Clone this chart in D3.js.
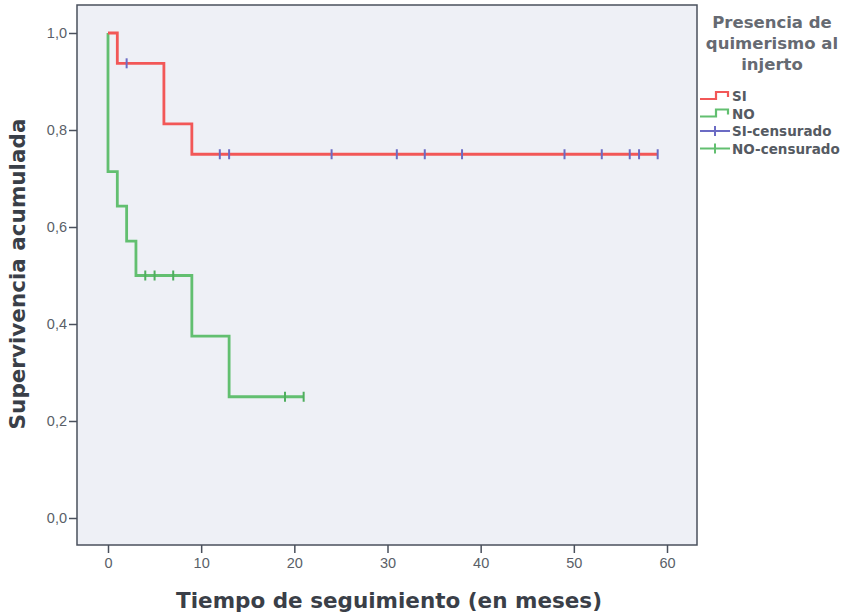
<!DOCTYPE html>
<html>
<head>
<meta charset="utf-8">
<script src="https://cdn.jsdelivr.net/npm/d3@7"></script>
<style>
  body { margin: 0; background: #fff; }
  svg { display: block; font-family: "DejaVu Sans", sans-serif; }
</style>
</head>
<body>
<svg id="chart" width="848" height="616"></svg>
<script>
// Kaplan-Meier steps: [time, survival]
const siSteps = [[0, 1.0], [1, 0.9375], [6, 0.8125], [9, 0.75], [59, 0.75]];
const noSteps = [[0, 1.0], [0, 0.714], [1, 0.643], [2, 0.571], [3, 0.5], [9, 0.375], [13, 0.25], [21, 0.25]];
// censored observations
const siCensored = [[2, 0.9375], [12, 0.75], [13, 0.75], [24, 0.75], [31, 0.75], [34, 0.75], [38, 0.75],
                    [49, 0.75], [53, 0.75], [56, 0.75], [57, 0.75], [59, 0.75]];
const noCensored = [[4, 0.5], [5, 0.5], [7, 0.5], [19, 0.25], [21, 0.25]];

const xTicks = [0, 10, 20, 30, 40, 50, 60];
const yTicks = [0, 0.2, 0.4, 0.6, 0.8, 1.0];
const legendTitle = ["Presencia de", "quimerismo al", "injerto"];
const legendItems = ["SI", "NO", "SI-censurado", "NO-censurado"];

const red = "#f25757", green = "#62bf70", blue = "#6b6bc4";

const svg = d3.select("#chart");
const frame = {left: 77, right: 697, top: 5, bottom: 545};

const x = d3.scaleLinear().domain([0, 60]).range([108, 667]);
const y = d3.scaleLinear().domain([0, 1]).range([518, 33]);

// plot background
svg.append("rect")
    .attr("x", frame.left).attr("y", frame.top)
    .attr("width", frame.right - frame.left)
    .attr("height", frame.bottom - frame.top)
    .attr("fill", "#eef0f6")
    .attr("stroke", "#4a505c")
    .attr("stroke-width", 1.5);

// y axis
const yAxis = d3.axisLeft(y).tickValues(yTicks).tickSize(8)
    .tickFormat(d => d3.format(".1f")(d).replace(".", ","));
svg.append("g")
    .attr("transform", `translate(${frame.left},0)`)
    .call(yAxis)
    .call(g => g.select(".domain").remove())
    .call(g => g.selectAll("line").attr("stroke", "#4a505c").attr("stroke-width", 1.5))
    .call(g => g.selectAll("text").attr("fill", "#5a5f68").attr("font-size", 14.5).attr("x", -10));

// x axis
const xAxis = d3.axisBottom(x).tickValues(xTicks).tickSize(8);
svg.append("g")
    .attr("transform", `translate(0,${frame.bottom})`)
    .call(xAxis)
    .call(g => g.select(".domain").remove())
    .call(g => g.selectAll("line").attr("stroke", "#4a505c").attr("stroke-width", 1.5))
    .call(g => g.selectAll("text").attr("fill", "#5a5f68").attr("font-size", 14.5).attr("y", 13));

// axis titles
svg.append("text")
    .attr("x", 389).attr("y", 608)
    .attr("text-anchor", "middle")
    .attr("font-size", 21.5).attr("font-weight", "bold")
    .attr("fill", "#3a3f48")
    .text("Tiempo de seguimiento (en meses)");

svg.append("text")
    .attr("transform", "translate(25,274) rotate(-90)")
    .attr("text-anchor", "middle")
    .attr("font-size", 21.5).attr("font-weight", "bold")
    .attr("fill", "#3a3f48")
    .text("Supervivencia acumulada");

// survival curves
const line = d3.line()
    .x(d => x(d[0]))
    .y(d => y(d[1]))
    .curve(d3.curveStepAfter);

svg.append("path").datum(noSteps)
    .attr("fill", "none").attr("stroke", green).attr("stroke-width", 2.8)
    .attr("d", line);
svg.append("path").datum(siSteps)
    .attr("fill", "none").attr("stroke", red).attr("stroke-width", 2.8)
    .attr("d", line);

// censor marks
function drawCensor(data, color) {
    svg.append("g").selectAll("line")
        .data(data).enter().append("line")
        .attr("x1", d => x(d[0])).attr("x2", d => x(d[0]))
        .attr("y1", d => y(d[1]) - 5).attr("y2", d => y(d[1]) + 5)
        .attr("stroke", color).attr("stroke-width", 2);
}
drawCensor(siCensored, blue);
drawCensor(noCensored, "#4fae5e");

// legend
const lg = svg.append("g");
lg.selectAll("text.title")
    .data(legendTitle).enter().append("text")
    .attr("class", "title")
    .attr("x", 772).attr("y", (d, i) => 28 + i * 21)
    .attr("text-anchor", "middle")
    .attr("font-size", 16.5).attr("font-weight", "bold")
    .attr("fill", "#666a72")
    .text(d => d);

const legendColors = [red, green, blue, green];
legendItems.forEach((name, i) => {
    const ly = 96 + i * 17.5;
    const c = legendColors[i];
    if (i < 2) {
        lg.append("path")
            .attr("d", `M700,${ly + 3}H716V${ly - 4}H728V${ly + 1}`)
            .attr("fill", "none").attr("stroke", c).attr("stroke-width", 2.2);
    } else {
        lg.append("line").attr("x1", 700).attr("x2", 730).attr("y1", ly).attr("y2", ly)
            .attr("stroke", c).attr("stroke-width", 2);
        lg.append("line").attr("x1", 715).attr("x2", 715).attr("y1", ly - 5).attr("y2", ly + 5)
            .attr("stroke", c).attr("stroke-width", 2);
    }
    lg.append("text")
        .attr("x", 732).attr("y", ly + 5)
        .attr("font-size", 13.5).attr("font-weight", "bold")
        .attr("fill", "#555a62")
        .text(name);
});
</script>
</body>
</html>
